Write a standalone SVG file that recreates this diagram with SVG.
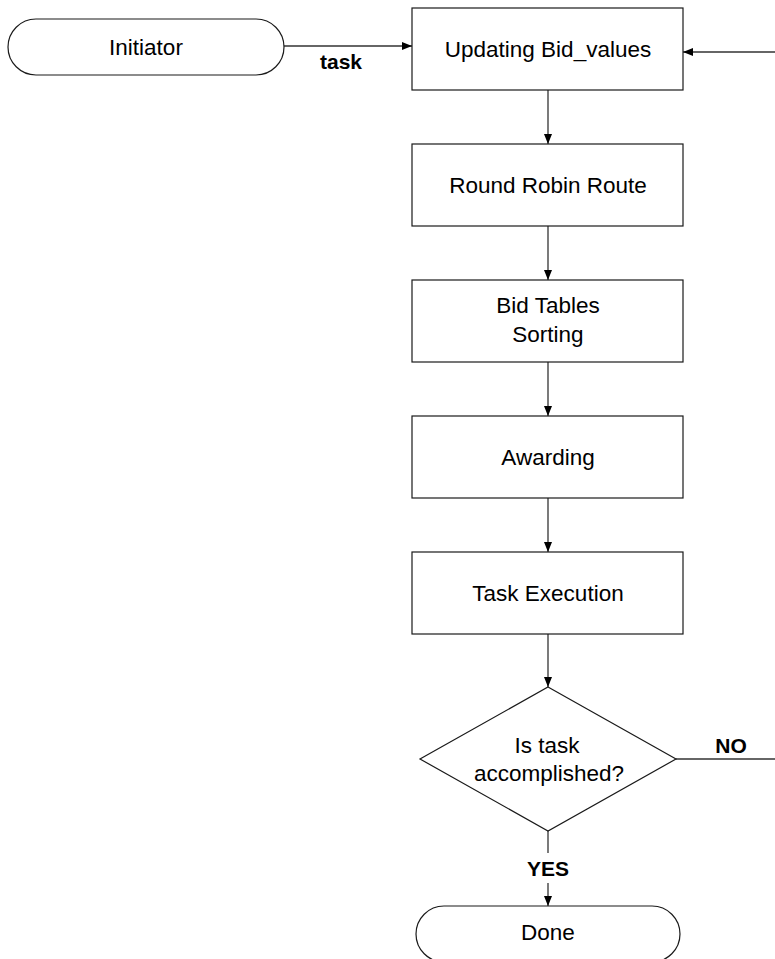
<svg xmlns="http://www.w3.org/2000/svg" width="775" height="959" viewBox="0 0 775 959">
  <style>
    .shape { fill: #ffffff; stroke: #1a1a1a; stroke-width: 1.2; }
    .line { fill: none; stroke: #333333; stroke-width: 1.3; }
    .label { font-family: "Liberation Sans", Arial, sans-serif; font-size: 22.5px; fill: #000000; text-anchor: middle; }
    .tag { font-family: "Liberation Sans", Arial, sans-serif; font-size: 21px; font-weight: bold; fill: #000000; text-anchor: middle; }
  </style>
  <defs>
    <marker id="arrow" viewBox="0 0 10 8" refX="10" refY="4" markerWidth="10" markerHeight="8" markerUnits="userSpaceOnUse" orient="auto">
      <path d="M0,0 L10,4 L0,8 Z" fill="#000000"/>
    </marker>
  </defs>

  <!-- connectors -->
  <g id="connectors">
    <line class="line" x1="284" y1="46" x2="412" y2="46" marker-end="url(#arrow)"/>
    <line class="line" x1="775" y1="52" x2="683" y2="52" marker-end="url(#arrow)"/>
    <line class="line" x1="548" y1="90" x2="548" y2="144" marker-end="url(#arrow)"/>
    <line class="line" x1="548" y1="226" x2="548" y2="280" marker-end="url(#arrow)"/>
    <line class="line" x1="548" y1="362" x2="548" y2="416" marker-end="url(#arrow)"/>
    <line class="line" x1="548" y1="498" x2="548" y2="552" marker-end="url(#arrow)"/>
    <line class="line" x1="548" y1="634" x2="548" y2="687" marker-end="url(#arrow)"/>
    <line class="line" x1="676" y1="759" x2="775" y2="759"/>
    <line class="line" x1="548" y1="831" x2="548" y2="853"/>
    <line class="line" x1="548" y1="883" x2="548" y2="906" marker-end="url(#arrow)"/>
    <text class="tag" x="341" y="69">task</text>
    <text class="tag" x="731" y="753">NO</text>
    <text class="tag" x="548" y="876">YES</text>
  </g>

  <g id="initiator">
    <rect class="shape" x="8" y="19" width="276" height="56" rx="28" ry="28"/>
    <text class="label" x="146" y="55">Initiator</text>
  </g>

  <g id="updating-bid-values">
    <rect class="shape" x="412" y="8" width="271" height="82"/>
    <text class="label" x="548" y="57">Updating Bid_values</text>
  </g>

  <g id="round-robin-route">
    <rect class="shape" x="412" y="144" width="271" height="82"/>
    <text class="label" x="548" y="193">Round Robin Route</text>
  </g>

  <g id="bid-tables-sorting">
    <rect class="shape" x="412" y="280" width="271" height="82"/>
    <text class="label" x="548" y="313">Bid Tables</text>
    <text class="label" x="548" y="342">Sorting</text>
  </g>

  <g id="awarding">
    <rect class="shape" x="412" y="416" width="271" height="82"/>
    <text class="label" x="548" y="465">Awarding</text>
  </g>

  <g id="task-execution">
    <rect class="shape" x="412" y="552" width="271" height="82"/>
    <text class="label" x="548" y="601">Task Execution</text>
  </g>

  <g id="is-task-accomplished">
    <polygon class="shape" points="548,687 676,759 548,831 420,759"/>
    <text class="label" x="547" y="753">Is task</text>
    <text class="label" x="549" y="781">accomplished?</text>
  </g>

  <g id="done">
    <rect class="shape" x="416" y="906" width="264" height="56" rx="28" ry="28"/>
    <text class="label" x="548" y="940">Done</text>
  </g>
</svg>
